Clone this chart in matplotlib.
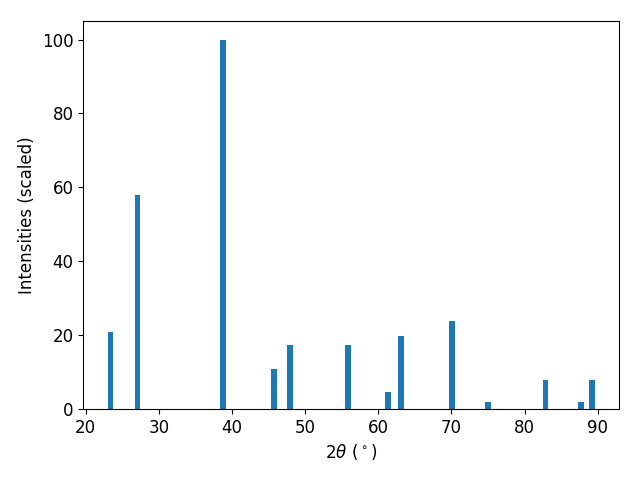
import numpy as np
import matplotlib
matplotlib.use("Agg")
import matplotlib.pyplot as plt

two_theta = [23.4, 27.1, 38.75, 45.75, 47.9, 55.9, 61.3, 63.05, 70.05, 74.95, 82.85, 87.65, 89.15]
intensity = [20.9, 58.0, 100.0, 10.8, 17.3, 17.3, 4.6, 19.8, 23.8, 1.9, 7.9, 1.9, 7.9]

plt.rcParams['font.size'] = 12

fig, ax = plt.subplots(figsize=(6.4, 4.8), dpi=100)
ax.bar(two_theta, intensity, width=0.8)
ax.set_xlabel(r"$2\theta\ (^\circ)$")
ax.set_ylabel("Intensities (scaled)")
fig.subplots_adjust(left=0.13, right=0.967, top=0.956, bottom=0.148)
fig.savefig("out.png")
